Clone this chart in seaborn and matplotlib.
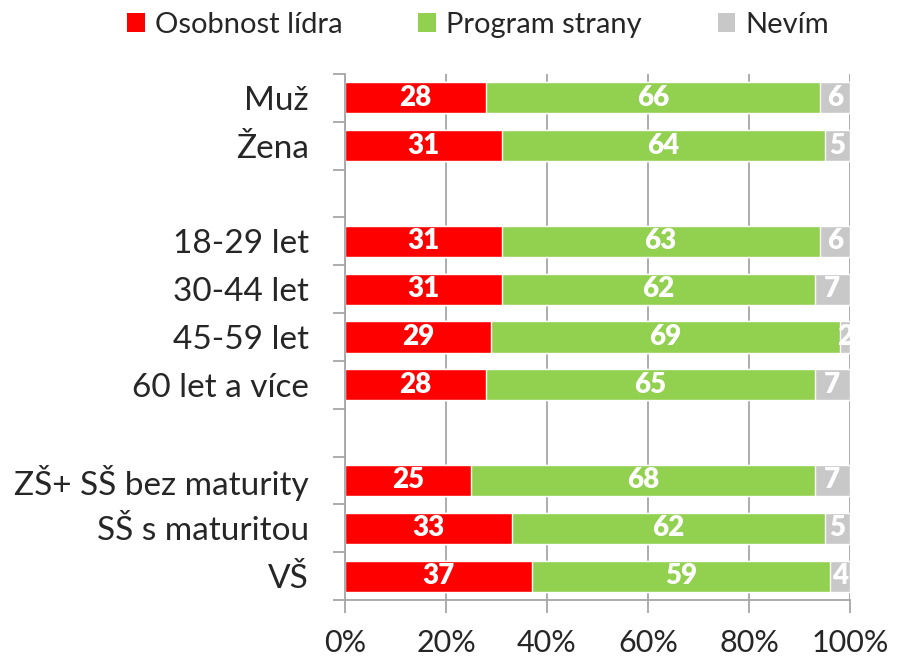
import matplotlib.pyplot as plt
import seaborn as sns
import pandas as pd
import numpy as np
from matplotlib.patches import Patch

# categories (blank strings are the spacer rows between groups)
categories = ['Muž', 'Žena', ' ', '18-29 let', '30-44 let', '45-59 let', '60 let a více',
              '  ', 'ZŠ+ SŠ bez maturity', 'SŠ s maturitou', 'VŠ']
leader = [28, 31, np.nan, 31, 31, 29, 28, np.nan, 25, 33, 37]
program = [66, 64, np.nan, 63, 62, 69, 65, np.nan, 68, 62, 59]
dontknow = [6, 5, np.nan, 6, 7, 2, 7, np.nan, 7, 5, 4]

series_names = ['Osobnost lídra', 'Program strany', 'Nevím']
colors = ['#FF0000', '#92D050', '#C8C8C8']
xticks = [0, 20, 40, 60, 80, 100]

df = pd.DataFrame({'cat': categories, 'leader': leader,
                   'program': program, 'dontknow': dontknow})
df['cum1'] = df['leader']
df['cum2'] = df['leader'] + df['program']
df['cum3'] = df['cum2'] + df['dontknow']

sns.set_style('white')
plt.rcParams['font.family'] = ['Lato', 'DejaVu Sans']

fig, ax = plt.subplots(figsize=(9.06, 6.61), dpi=100)
fig.subplots_adjust(left=345 / 906, right=850 / 906, top=1 - 74 / 661, bottom=1 - 600 / 661)

# layered bars: total first, then shorter cumulative ones on top
for col, color in zip(['cum3', 'cum2', 'cum1'], colors[::-1]):
    sns.barplot(data=df, x=col, y='cat', order=categories, color=color,
                width=0.65, orient='h', ax=ax, saturation=1, zorder=2)

# segment labels
for i, row in df.iterrows():
    if np.isnan(row['leader']):
        continue
    starts = [0, row['cum1'], row['cum2']]
    vals = [row['leader'], row['program'], row['dontknow']]
    for s, v in zip(starts, vals):
        ax.text(s + v / 2, i, f'{int(v)}', ha='center', va='center',
                color='white', fontsize=20, fontweight='heavy', zorder=3)

ax.set_xlim(0, 100)
ax.set_ylim(len(categories) - 0.5, -0.5)
ax.set_xticks(xticks)
ax.set_xticklabels([f'{t}%' for t in xticks], fontsize=22)
ax.set_xlabel('')
ax.set_ylabel('')
ax.xaxis.grid(True, color='#A6A6A6', linewidth=1.3, zorder=0)
ax.set_axisbelow(True)

# category labels without marks, marks between categories
ax.set_yticks(range(len(categories)))
ax.set_yticklabels(categories, fontsize=24)
ax.tick_params(axis='y', which='major', length=0, pad=26)
ax.set_yticks(np.arange(-0.5, len(categories)), minor=True)
ax.tick_params(axis='y', which='minor', length=9, width=1.3, color='#A6A6A6', direction='out', left=True)
ax.tick_params(axis='x', which='major', length=9, width=1.3, color='#A6A6A6', direction='out', bottom=True, pad=12)

for side in ['top', 'right']:
    ax.spines[side].set_visible(False)
for side in ['left', 'bottom']:
    ax.spines[side].set_color('#A6A6A6')
    ax.spines[side].set_linewidth(1.3)

handles = [Patch(facecolor=c, edgecolor='none') for c in colors]
fig.legend(handles, series_names, loc='center', bbox_to_anchor=(478 / 906, 1 - 25 / 661),
           ncol=3, frameon=False, fontsize=21, handlelength=0.6, handleheight=0.6,
           handletextpad=0.35, columnspacing=2.6, borderaxespad=0, borderpad=0)

fig.savefig('out.png', dpi=100)
